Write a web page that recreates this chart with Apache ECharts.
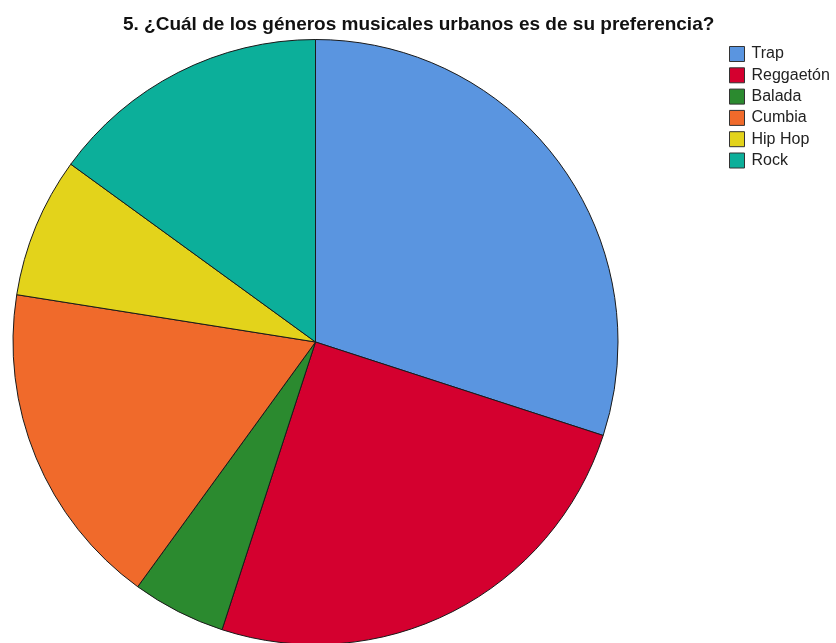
<!DOCTYPE html>
<html>
<head>
<meta charset="utf-8">
<script src="https://cdn.jsdelivr.net/npm/echarts@6/dist/echarts.min.js"></script>
<style>
html,body{margin:0;padding:0;background:#fff;}
#chart{width:836px;height:643px;}
</style>
</head>
<body>
<div id="chart"></div>
<script>
const categories = ["Trap", "Reggaetón", "Balada", "Cumbia", "Hip Hop", "Rock"];
const counts = [12, 10, 2, 7, 3, 6];
const colors = ["#5a95e0", "#d4002f", "#2b8a2f", "#f06a2b", "#e3d31b", "#0caf9a"];
const titleText = "5. ¿Cuál de los géneros musicales urbanos es de su preferencia?";

const chart = echarts.init(document.getElementById('chart'), null, {renderer: 'canvas'});
chart.setOption({
  backgroundColor: '#ffffff',
  animation: false,
  color: colors,
  title: {
    text: titleText,
    left: 118,
    top: 10,
    textStyle: {
      fontFamily: 'Liberation Sans, Arial, sans-serif',
      fontSize: 19,
      fontWeight: 'bold',
      color: '#111'
    }
  },
  legend: {
    orient: 'vertical',
    left: 724,
    top: 41,
    icon: 'rect',
    itemWidth: 15,
    itemHeight: 15,
    itemGap: 5.3,
    data: categories,
    itemStyle: {borderColor: '#333', borderWidth: 1},
    textStyle: {
      fontFamily: 'Liberation Sans, Arial, sans-serif',
      fontSize: 16,
      lineHeight: 15,
      color: '#222',
      padding: [0, 0, 0, 2]
    }
  },
  series: [{
    type: 'pie',
    center: [315.5, 342],
    radius: 302.5,
    startAngle: 90,
    clockwise: true,
    label: {show: false},
    labelLine: {show: false},
    emphasis: {disabled: true},
    itemStyle: {borderColor: '#1a1a1a', borderWidth: 1},
    data: categories.map((c, i) => ({name: c, value: counts[i]}))
  }]
});
</script>
</body>
</html>
